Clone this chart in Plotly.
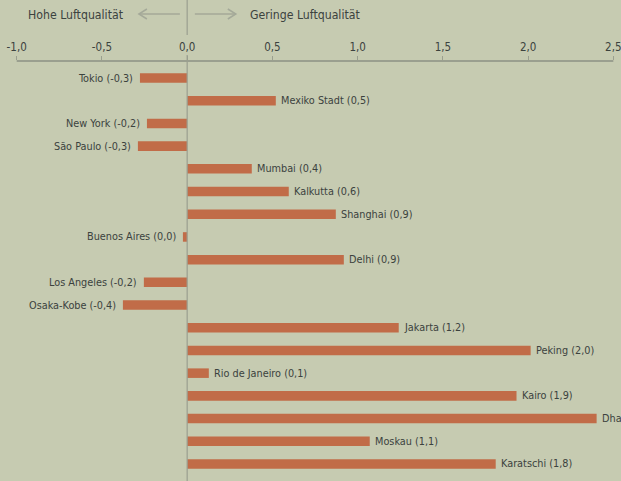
import plotly.graph_objects as go

cities = ["Tokio", "Mexiko Stadt", "New York", "São Paulo", "Mumbai", "Kalkutta",
          "Shanghai", "Buenos Aires", "Delhi", "Los Angeles", "Osaka-Kobe", "Jakarta",
          "Peking", "Rio de Janeiro", "Kairo", "Dhaka", "Moskau", "Karatschi"]
values = [-0.277, 0.52, -0.236, -0.289, 0.379, 0.596, 0.872, -0.025, 0.919, -0.254,
          -0.377, 1.241, 2.015, 0.127, 1.932, 2.402, 1.071, 1.81]
shown = ["-0,3", "0,5", "-0,2", "-0,3", "0,4", "0,6", "0,9", "0,0", "0,9", "-0,2",
         "-0,4", "1,2", "2,0", "0,1", "1,9", "2,4", "1,1", "1,8"]
tick_vals = [-1.0, -0.5, 0.0, 0.5, 1.0, 1.5, 2.0, 2.5]
tick_text = ["-1,0", "-0,5", "0,0", "0,5", "1,0", "1,5", "2,0", "2,5"]

BG = "#c6cbb1"
BAR = "#c16c48"
TXT = "#3b423e"
GREY = "#9a9f8f"
ARROW = "#a4a999"
FONT = "DejaVu Sans Condensed, sans-serif"

PX = 170.6  # pixels per unit
X0 = -1.098
X1 = 2.545
H = 420.0


def px2x(p):
    return (p - 187.3) / PX


def py2p(p):
    return 1 + (61 - p) / H


fig = go.Figure()
fig.add_trace(go.Bar(
    x=values, y=cities, orientation="h", marker_color=BAR,
    marker_line_width=0, width=0.42, hoverinfo="skip"))

annotations = []
for c, v, s in zip(cities, values, shown):
    label = f"{c} ({s})"
    if v >= 0:
        annotations.append(dict(x=v, y=c, xref="x", yref="y", text=label,
                                showarrow=False, xanchor="left", xshift=3.5,
                                font=dict(size=10.8, color=TXT, family=FONT)))
    else:
        annotations.append(dict(x=v, y=c, xref="x", yref="y", text=label,
                                showarrow=False, xanchor="right", xshift=-4.5,
                                font=dict(size=10.8, color=TXT, family=FONT)))

annotations.append(dict(x=px2x(126), y=py2p(15), xref="x", yref="paper",
                        text="Hohe Luftqualität", showarrow=False,
                        xanchor="right", yanchor="middle",
                        font=dict(size=12.2, color=TXT, family=FONT)))
annotations.append(dict(x=px2x(248), y=py2p(15), xref="x", yref="paper",
                        text="Geringe Luftqualität", showarrow=False,
                        xanchor="left", yanchor="middle",
                        font=dict(size=12.2, color=TXT, family=FONT)))

shapes = []
# axis line
shapes.append(dict(type="line", xref="x", yref="paper", x0=-1.0, x1=2.5,
                   y0=1, y1=1, line=dict(color=GREY, width=2)))
# zero line segments
shapes.append(dict(type="line", xref="x", yref="paper", x0=0, x1=0,
                   y0=py2p(0), y1=py2p(35), line=dict(color=GREY, width=1.2)))
shapes.append(dict(type="line", xref="x", yref="paper", x0=0, x1=0,
                   y0=py2p(55), y1=0, line=dict(color=GREY, width=1.2), layer="above"))
# arrows
ya = py2p(14)
dy = 5 / H
shapes.append(dict(type="line", xref="x", yref="paper", x0=px2x(139), x1=px2x(180),
                   y0=ya, y1=ya, line=dict(color=ARROW, width=1.5)))
shapes.append(dict(type="path", xref="x", yref="paper",
                   path=f"M {px2x(147)} {ya + dy} L {px2x(139)} {ya} L {px2x(147)} {ya - dy}",
                   line=dict(color=ARROW, width=1.5)))
shapes.append(dict(type="line", xref="x", yref="paper", x0=px2x(195), x1=px2x(236),
                   y0=ya, y1=ya, line=dict(color=ARROW, width=1.5)))
shapes.append(dict(type="path", xref="x", yref="paper",
                   path=f"M {px2x(228)} {ya + dy} L {px2x(236)} {ya} L {px2x(228)} {ya - dy}",
                   line=dict(color=ARROW, width=1.5)))

fig.update_layout(
    width=621, height=481,
    margin=dict(l=0, r=0, t=61, b=0, pad=0),
    paper_bgcolor=BG, plot_bgcolor=BG,
    showlegend=False,
    separators=",.",
    annotations=annotations,
    shapes=shapes,
    xaxis=dict(side="top", range=[X0, X1], tickvals=tick_vals, ticktext=tick_text,
               ticks="outside", ticklen=4, tickwidth=1.2, tickcolor=GREY,
               ticklabeloverflow="allow",
               showgrid=False, zeroline=False, showline=False,
               tickfont=dict(size=11.5, color=TXT, family=FONT), fixedrange=True),
    yaxis=dict(range=[17.75, -0.75], showticklabels=False, showgrid=False,
               zeroline=False, showline=False, ticks="", fixedrange=True),
)

fig.write_html("out.html", config={"displayModeBar": False},
               post_script="document.body.style.margin='0';document.body.style.overflow='hidden';")
